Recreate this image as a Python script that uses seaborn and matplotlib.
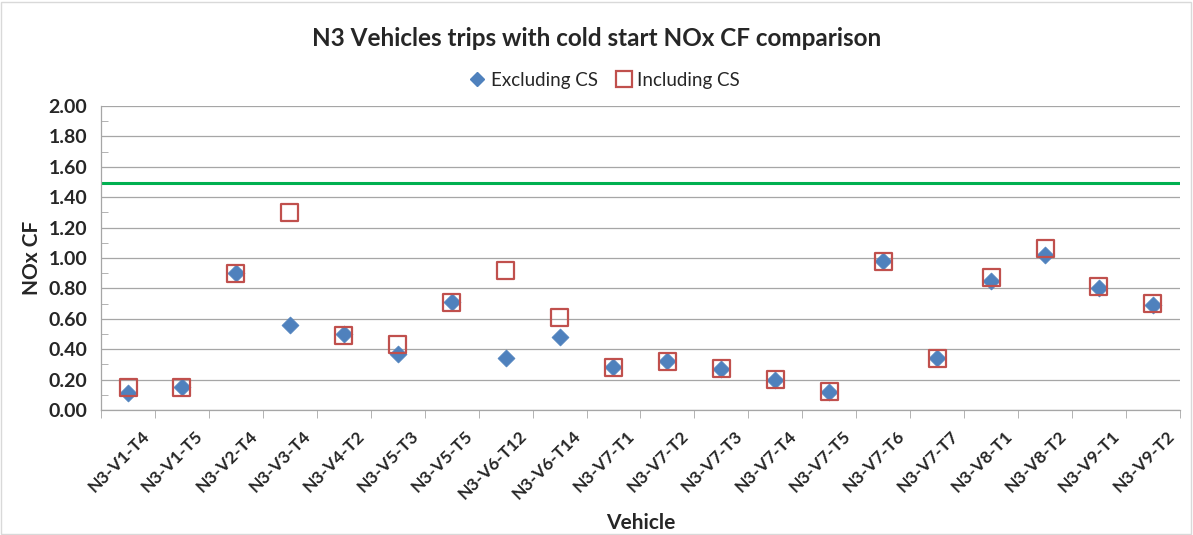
import pandas as pd
import seaborn as sns
import matplotlib.pyplot as plt
from matplotlib.patches import Rectangle
from matplotlib.lines import Line2D
from matplotlib.transforms import ScaledTranslation
from matplotlib.ticker import MultipleLocator, FixedLocator

# Data
vehicles = ['N3-V1-T4', 'N3-V1-T5', 'N3-V2-T4', 'N3-V3-T4', 'N3-V4-T2', 'N3-V5-T3',
            'N3-V5-T5', 'N3-V6-T12', 'N3-V6-T14', 'N3-V7-T1', 'N3-V7-T2', 'N3-V7-T3',
            'N3-V7-T4', 'N3-V7-T5', 'N3-V7-T6', 'N3-V7-T7', 'N3-V8-T1', 'N3-V8-T2',
            'N3-V9-T1', 'N3-V9-T2']
excl_cs = [0.11, 0.15, 0.90, 0.56, 0.50, 0.37, 0.71, 0.34, 0.48, 0.28,
           0.32, 0.27, 0.20, 0.12, 0.98, 0.34, 0.85, 1.02, 0.80, 0.69]
incl_cs = [0.15, 0.15, 0.90, 1.30, 0.49, 0.43, 0.71, 0.92, 0.61, 0.28,
           0.32, 0.27, 0.20, 0.12, 0.98, 0.34, 0.87, 1.06, 0.81, 0.70]
cf_limit = 1.49

df = pd.DataFrame({'Vehicle': vehicles, 'Excluding CS': excl_cs, 'Including CS': incl_cs})

sns.set_style('white')
plt.rcParams['font.family'] = ['Lato', 'DejaVu Sans']

fig = plt.figure(figsize=(11.93, 5.35), dpi=100)
ax = fig.add_axes([0.0847, 0.2336, 0.9043, 0.5684])

blue, red = '#4F81BD', '#C0504D'
sns.scatterplot(data=df, x='Vehicle', y='Excluding CS', marker='D', s=75,
                color=blue, edgecolor=blue, linewidth=0.5, ax=ax, zorder=3)
sns.scatterplot(data=df, x='Vehicle', y='Including CS', marker='s', s=150,
                facecolor='none', edgecolor=red, linewidth=1.6, ax=ax, zorder=4)
ax.axhline(cf_limit, color='#00B050', linewidth=2.2, zorder=2)

ax.set_xlim(-0.5, len(vehicles) - 0.5)
ax.set_ylim(0, 2.0)
ax.yaxis.set_major_locator(MultipleLocator(0.2))
ax.yaxis.set_minor_locator(MultipleLocator(0.1))
ax.yaxis.set_major_formatter(plt.FuncFormatter(lambda v, p: f'{v:.2f}'))
ax.xaxis.set_minor_locator(FixedLocator([i + 0.5 for i in range(-1, len(vehicles))]))
ax.grid(axis='y', which='major', color='#A6A6A6', linewidth=0.9, zorder=0)
ax.set_axisbelow(True)

for side in ['top', 'right']:
    ax.spines[side].set_visible(False)
for side in ['left', 'bottom']:
    ax.spines[side].set_color('#A6A6A6')
    ax.spines[side].set_linewidth(0.9)

ax.tick_params(axis='y', which='major', direction='out', length=6, color='#A6A6A6',
               labelsize=14, pad=4)
ax.tick_params(axis='y', which='minor', direction='in', length=5, color='#A6A6A6', left=True)
ax.tick_params(axis='x', which='major', length=0, labelsize=12.5, pad=13)
ax.tick_params(axis='x', which='minor', direction='out', length=6, color='#A6A6A6', bottom=True)
for lbl in ax.get_yticklabels():
    lbl.set_fontweight('bold')
shift = ScaledTranslation(0.13, 0, fig.dpi_scale_trans)
for lbl in ax.get_xticklabels():
    lbl.set_rotation(45)
    lbl.set_ha('right')
    lbl.set_rotation_mode('anchor')
    lbl.set_fontweight('bold')
    lbl.set_transform(lbl.get_transform() + shift)

ax.set_xlabel('Vehicle', fontsize=15, fontweight='bold')
ax.set_ylabel('NOx CF', fontsize=15, fontweight='bold')
ax.xaxis.set_label_coords(0.5, -0.338)
ax.yaxis.set_label_coords(-0.055, 0.5)
fig.suptitle('N3 Vehicles trips with cold start NOx CF comparison', y=0.95,
             fontsize=17.5, fontweight='bold')

handles = [Line2D([], [], linestyle='none', marker='D', markersize=7,
                  color=blue, markeredgecolor=blue),
           Line2D([], [], linestyle='none', marker='s', markersize=11,
                  markerfacecolor='none', markeredgecolor=red, markeredgewidth=1.6)]
ax.legend(handles, ['Excluding CS', 'Including CS'], loc='center',
          bbox_to_anchor=(0.467, 1.085), ncol=2, frameon=False, fontsize=13.5,
          handlelength=0.8, handletextpad=0.3, columnspacing=1.0)

fig.patches.append(Rectangle((0.001, 0.002), 0.997, 0.995, transform=fig.transFigure,
                             fill=False, edgecolor='#D9D9D9', linewidth=1))

fig.savefig('out.png', dpi=100)
